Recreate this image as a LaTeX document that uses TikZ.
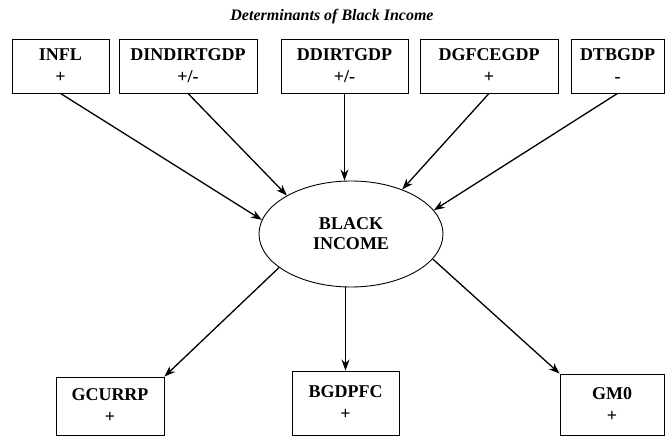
\documentclass[tikz,border=0pt]{standalone}
\usepackage{fontspec}
\setmainfont{Liberation Serif}
\usetikzlibrary{shapes.geometric,arrows.meta}
\begin{document}
\begin{tikzpicture}[x=1pt,y=-1pt,
  vbox/.style={draw,line width=0.9pt,rectangle,inner sep=0pt,align=center,
    font=\fontsize{18}{22}\selectfont\bfseries},
  oval/.style={draw,line width=0.9pt,ellipse,inner sep=0pt,align=center,
    minimum width=184pt,minimum height=106pt,
    font=\fontsize{18}{20}\selectfont\bfseries},
  conn/.style={line width=1.3pt,-{Stealth[length=11pt,width=8pt]}}]
\useasboundingbox (0,0) rectangle (665,436);
\node[font=\fontsize{16}{18}\selectfont\bfseries\itshape] (title) at (332,17) {Determinants of Black Income};
% top boxes (x range, y 39-93)
\node[vbox,minimum width=97pt,minimum height=54pt] (infl) at (60.5,66) {INFL\\+};
\node[vbox,minimum width=138pt,minimum height=54pt] (dind) at (188,66) {DINDIRTGDP\\+/-};
\node[vbox,minimum width=127pt,minimum height=54pt] (ddir) at (344.5,66) {DDIRTGDP\\+/-};
\node[vbox,minimum width=138pt,minimum height=54pt] (dgfc) at (489,66) {DGFCEGDP\\+};
\node[vbox,minimum width=93pt,minimum height=54pt] (dtb) at (617.5,66) {DTBGDP\\-};
% ellipse
\node[oval] (bi) at (351,234) {BLACK\\INCOME};
% bottom boxes
\node[vbox,minimum width=108pt,minimum height=58pt] (gcur) at (110,406) {GCURRP\\+};
\node[vbox,minimum width=107pt,minimum height=64pt] (bgdp) at (345.5,403) {BGDPFC\\+};
\node[vbox,minimum width=104pt,minimum height=61pt] (gm) at (612,404.5) {GM0\\+};
% connectors in
\draw[conn] (infl.south) -- (bi.171);
\draw[conn] (dind.south) -- (bi.149);
\draw[conn] (ddir.south) -- (ddir.south |- bi.north);
\draw[conn] (dgfc.south) -- (bi.41);
\draw[conn] (dtb.south) -- (bi.16);
% connectors out
\draw[conn] (bi.205) -- (gcur.north east);
\draw[conn] (bgdp.north |- bi.south) -- (bgdp.north);
\draw[conn] (bi.343) -- (gm.north west);
\end{tikzpicture}
\end{document}
